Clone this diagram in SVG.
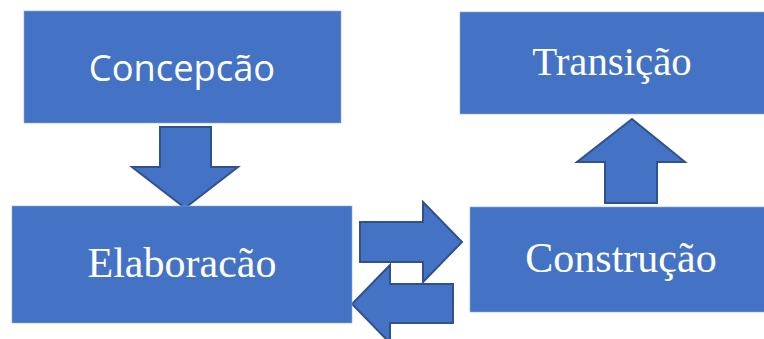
<svg xmlns="http://www.w3.org/2000/svg" width="764" height="339" viewBox="0 0 764 339">
<style>
.box{fill:#4472C4;stroke:#8FAADC;stroke-width:0.6}
.arr{fill:#4472C4;stroke:#2F528F;stroke-width:2;stroke-linejoin:miter}
.sans{font-family:"Open Sans","Noto Sans",sans-serif;font-size:36.3px;fill:#fff}
.serif{font-family:"Liberation Serif","Times New Roman",serif;font-size:42px;fill:#fff}
.serif2{font-family:"Liberation Serif","Times New Roman",serif;font-size:40.8px;fill:#fff}
</style>
<rect width="764" height="339" fill="#fff"/>
<g id="connectors">
<polygon class="arr" points="160,127 211,127 211,167 238,167 185,208 132,167 160,167"/>
<polygon class="arr" points="360,222 423,222 423,202 462,242 423,282 423,262 360,262"/>
<polygon class="arr" points="453,284 390,284 390,265 352,304 390,343 390,323 453,323"/>
<polygon class="arr" points="605,203 605,162 577,162 632,119 685,162 657,162 657,203"/>
</g>
<g id="concepcao">
<rect class="box" x="24" y="11" width="317" height="112"/>
<text class="sans" x="182" y="81" text-anchor="middle">Concepcão</text>
</g>
<g id="elaboracao">
<rect class="box" x="12" y="206" width="340" height="117"/>
<text class="serif" x="182" y="277" text-anchor="middle">Elaboracão</text>
</g>
<g id="construcao">
<rect class="box" x="470" y="207" width="296" height="105"/>
<text class="serif" x="621" y="272" text-anchor="middle">Construção</text>
</g>
<g id="transicao">
<rect class="box" x="460" y="12" width="306" height="102"/>
<text class="serif2" x="612" y="75" text-anchor="middle">Transição</text>
</g>
</svg>
